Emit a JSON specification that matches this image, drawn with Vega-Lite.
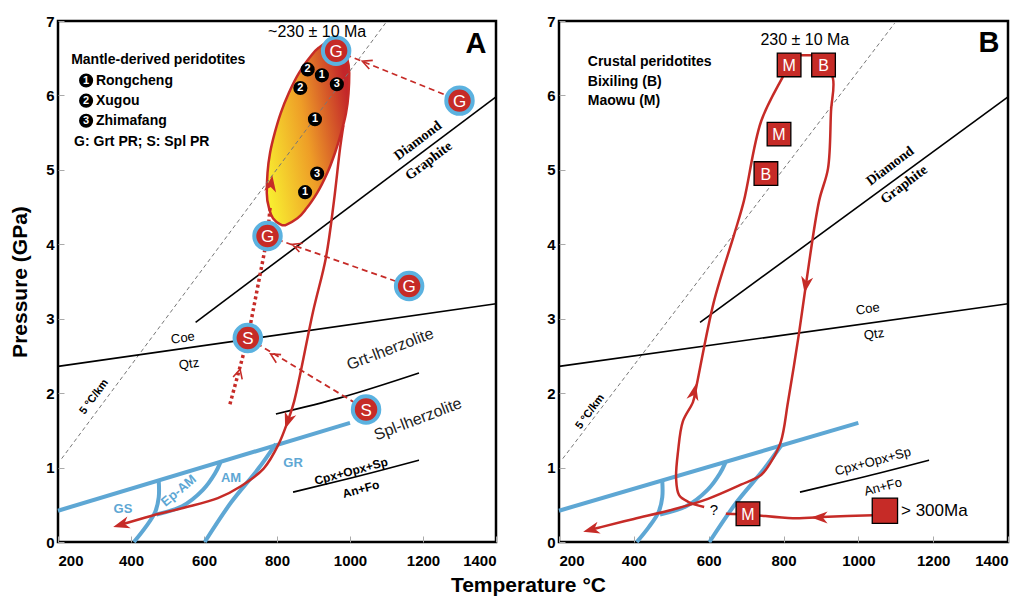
{
"$schema":"https://vega.github.io/schema/vega-lite/v6.json",
"background":"white",
"padding":{"left":8,"top":12,"right":5,"bottom":5},
"spacing":44,
"title":{"text":"Temperature °C","orient":"bottom","anchor":"middle","font":"Liberation Sans","fontSize":21,"fontWeight":"bold","color":"black","offset":6,"dx":18},
"config":{
 "view":{"stroke":"black","strokeWidth":2.5},
 "axis":{"grid":false,"domain":false,"labelFont":"Liberation Sans","labelFontWeight":"bold","labelFontSize":15,"labelColor":"black","tickColor":"#aaa","tickSize":-6,"titleFont":"Liberation Sans","titleFontWeight":"bold","titleFontSize":21,"titleColor":"black","format":"d"},
 "text":{"font":"Liberation Sans"}
},
"datasets":{
 "geo":[{"T":210,"P":1.12},{"T":1097,"P":6.97}],
 "blkA":[{"id":"c","T":200,"P":2.36},{"id":"c","T":1400,"P":3.2},{"id":"d","T":577,"P":2.95},{"id":"d","T":1400,"P":5.98},{"id":"g","T":797,"P":1.72},{"id":"g","T":975,"P":1.94},{"id":"g","T":1189,"P":2.27},{"id":"x","T":844,"P":0.67},{"id":"x","T":1003,"P":0.86},{"id":"x","T":1189,"P":1.1}],
 "blkB":[{"id":"c","T":200,"P":2.36},{"id":"c","T":1400,"P":3.2},{"id":"d","T":577,"P":2.95},{"id":"d","T":1400,"P":5.98},{"id":"x","T":844,"P":0.67},{"id":"x","T":1003,"P":0.86},{"id":"x","T":1189,"P":1.1}],
 "blue":[{"id":"m","T":200,"P":0.42},{"id":"m","T":1000,"P":1.6},
  {"id":"a","T":408,"P":0},{"id":"a","T":440,"P":0.2},{"id":"a","T":466,"P":0.4},{"id":"a","T":476,"P":0.6},{"id":"a","T":476,"P":0.82},
  {"id":"b","T":470,"P":0.37},{"id":"b","T":540,"P":0.48},{"id":"b","T":597,"P":0.7},{"id":"b","T":630,"P":0.92},{"id":"b","T":645,"P":1.07},
  {"id":"c","T":602,"P":0},{"id":"c","T":674,"P":0.53},{"id":"c","T":748,"P":0.98},{"id":"c","T":797,"P":1.32}],
 "ellA":[{"P":6.735,"T":948,"T2":955},{"P":6.72,"T":940,"T2":962},{"P":6.64,"T":914,"T2":981},{"P":6.5,"T":888,"T2":992},{"P":6.3,"T":860,"T2":998},{"P":6.03,"T":832,"T2":996},{"P":5.76,"T":810,"T2":989},{"P":5.5,"T":794,"T2":976},{"P":5.23,"T":781,"T2":959},{"P":4.96,"T":774,"T2":938},{"P":4.69,"T":772,"T2":910},{"P":4.49,"T":778,"T2":882},{"P":4.35,"T":789,"T2":856},{"P":4.27,"T":808,"T2":829},{"P":4.255,"T":815,"T2":822}],
 "redA":[{"T":982,"P":5.6},{"T":973,"P":5.3},{"T":956,"P":4.58},{"T":934,"P":3.82},{"T":899,"P":3.1},{"T":847,"P":1.89},{"T":830,"P":1.63},{"T":805,"P":1.32},{"T":764,"P":0.99},{"T":701,"P":0.75},{"T":638,"P":0.59},{"T":545,"P":0.46},{"T":455,"P":0.35},{"T":374,"P":0.235}],
 "dashA":[{"id":"1","T":1300,"P":5.93},{"id":"1","T":962,"P":6.6},{"id":"2","T":1162,"P":3.44},{"id":"2","T":774,"P":4.11},{"id":"3","T":1044,"P":1.78},{"id":"3","T":720,"P":2.74}],
 "dotA":[{"T":671,"P":1.85},{"T":720,"P":2.74},{"T":774,"P":4.11},{"T":781,"P":4.49}],
 "openA":[{"T":1044,"P":6.44,"a":292},{"T":852,"P":3.98,"a":290},{"T":792,"P":2.5,"a":301},{"T":696,"P":2.27,"a":15}],
 "barbA":[{"T":830,"P":1.63,"a":199},{"T":374,"P":0.235,"a":254},{"T":784,"P":4.81,"a":8}],
 "numA":[{"T":884,"P":6.35,"n":"2"},{"T":923,"P":6.27,"n":"1"},{"T":964,"P":6.15,"n":"3"},{"T":864,"P":6.1,"n":"2"},{"T":904,"P":5.68,"n":"1"},{"T":910,"P":4.95,"n":"3"},{"T":877,"P":4.7,"n":"1"},{"T":277,"P":6.2,"n":"1"},{"T":277,"P":5.93,"n":"2"},{"T":277,"P":5.66,"n":"3"}],
 "gsA":[{"T":962,"P":6.6,"n":"G"},{"T":1300,"P":5.93,"n":"G"},{"T":774,"P":4.11,"n":"G"},{"T":1162,"P":3.44,"n":"G"},{"T":720,"P":2.74,"n":"S"},{"T":1044,"P":1.78,"n":"S"}],
 "legA":[{"T":236,"P":6.48,"label":"Mantle-derived peridotites"},{"T":304,"P":6.2,"label":"Rongcheng"},{"T":304,"P":5.93,"label":"Xugou"},{"T":304,"P":5.66,"label":"Zhimafang"},{"T":244,"P":5.37,"label":"G: Grt PR;  S: Spl PR"}],
 "redB":[{"id":"p1","T":1039,"P":0.36},{"id":"p1","T":919,"P":0.34},{"id":"p1","T":825,"P":0.32},{"id":"p1","T":705,"P":0.37},{"id":"p1","T":646,"P":0.38},
  {"id":"p2","T":588,"P":0.47},{"id":"p2","T":545,"P":0.54},{"id":"p2","T":521,"P":0.63},{"id":"p2","T":513,"P":0.85},{"id":"p2","T":518,"P":1.21},{"id":"p2","T":531,"P":1.62},{"id":"p2","T":558,"P":1.88},{"id":"p2","T":566,"P":2.06},{"id":"p2","T":614,"P":3.23},{"id":"p2","T":668,"P":4.13},{"id":"p2","T":694,"P":4.58},{"id":"p2","T":740,"P":5.65},{"id":"p2","T":799,"P":6.26},{"id":"p2","T":815,"P":6.42},
  {"id":"t","T":815,"P":6.54},{"id":"t","T":908,"P":6.54},
  {"id":"r","T":908,"P":6.42},{"id":"r","T":932,"P":6.23},{"id":"r","T":927,"P":5.79},{"id":"r","T":919,"P":5.02},{"id":"r","T":895,"P":4.58},{"id":"r","T":860,"P":3.46},{"id":"r","T":841,"P":2.79},{"id":"r","T":812,"P":1.88},{"id":"r","T":793,"P":1.35},{"id":"r","T":767,"P":1.08},{"id":"r","T":740,"P":0.9},{"id":"r","T":686,"P":0.77},{"id":"r","T":598,"P":0.58},{"id":"r","T":507,"P":0.44},{"id":"r","T":400,"P":0.31},{"id":"r","T":312,"P":0.2},{"id":"r","T":287,"P":0.167}],
 "barbB":[{"T":897,"P":0.33,"a":270},{"T":561,"P":2.01,"a":12},{"T":860,"P":3.46,"a":189},{"T":287,"P":0.167,"a":255}],
 "sqB":[{"T":815,"P":6.41,"n":"M"},{"T":907,"P":6.41,"n":"B"},{"T":788,"P":5.48,"n":"M"},{"T":753,"P":4.95,"n":"B"},{"T":705,"P":0.38,"n":"M"}],
 "bigB":[{"T":1071,"P":0.42}],
 "legB":[{"T":277,"P":6.45,"label":"Crustal peridotites"},{"T":277,"P":6.18,"label":"Bixiling (B)"},{"T":277,"P":5.92,"label":"Maowu (M)"}]
},
"hconcat":[
{
 "width":438,"height":521,
 "encoding":{
  "x":{"field":"T","type":"quantitative","scale":{"domain":[200,1400],"nice":false,"zero":false},"axis":{"values":[200,400,600,800,1000,1200,1400],"title":null,"labelPadding":17}},
  "y":{"field":"P","type":"quantitative","scale":{"domain":[0,7],"nice":false,"zero":false},"axis":{"values":[0,1,2,3,4,5,6,7],"title":"Pressure (GPa)","labelPadding":10,"titlePadding":15}}
 },
 "layer":[
  {"data":{"name":"ellA"},"mark":{"type":"area","orient":"horizontal","interpolate":"monotone","stroke":"#c62b27","strokeWidth":2.5,"fill":{"gradient":"linear","x1":0,"y1":0.75,"x2":1,"y2":0.35,"stops":[{"offset":0,"color":"#f8ec30"},{"offset":0.5,"color":"#ee9d27"},{"offset":1,"color":"#c3262a"}]}},"encoding":{"x2":{"field":"T2"}}},
  {"data":{"name":"geo"},"mark":{"type":"line","color":"#777","strokeWidth":1,"strokeDash":[4,3]},"encoding":{}},
  {"data":{"name":"blkA"},"mark":{"type":"line","color":"black","strokeWidth":1.6,"interpolate":"monotone"},"encoding":{"detail":{"field":"id"}}},
  {"data":{"name":"blue"},"transform":[{"window":[{"op":"row_number","as":"i"}]}],"mark":{"type":"line","color":"#5ea7d4","strokeWidth":4,"interpolate":"catmull-rom"},"encoding":{"detail":{"field":"id"},"order":{"field":"i","type":"quantitative"}}},
  {"data":{"name":"redA"},"transform":[{"window":[{"op":"row_number","as":"i"}]}],"mark":{"type":"line","color":"#c62b27","strokeWidth":2.5,"interpolate":"catmull-rom"},"encoding":{"order":{"field":"i","type":"quantitative"}}},
  {"data":{"name":"dashA"},"mark":{"type":"line","color":"#c62b27","strokeWidth":1.8,"strokeDash":[6,4]},"encoding":{"detail":{"field":"id"}}},
  {"data":{"name":"dotA"},"transform":[{"window":[{"op":"row_number","as":"i"}]}],"mark":{"type":"line","color":"#c62b27","strokeWidth":3.5,"strokeDash":[3,3]},"encoding":{"order":{"field":"i","type":"quantitative"}}},
  {"data":{"name":"barbA"},"mark":{"type":"point","shape":"M0,-1L0.7,0.9L0,0.35L-0.7,0.9Z","filled":true,"color":"#c62b27","opacity":1,"size":300},"encoding":{"angle":{"field":"a","type":"quantitative","scale":null}}},
  {"data":{"name":"openA"},"mark":{"type":"point","shape":"M-0.7,0.8L0,-0.6L0.7,0.8","filled":false,"color":"#c62b27","opacity":1,"strokeWidth":1.6,"size":180},"encoding":{"angle":{"field":"a","type":"quantitative","scale":null}}},
  {"data":{"name":"numA"},"mark":{"type":"point","shape":"circle","filled":true,"color":"black","opacity":1,"size":200},"encoding":{}},
  {"data":{"name":"numA"},"mark":{"type":"text","color":"white","fontWeight":"bold","fontSize":11,"baseline":"middle","align":"center"},"encoding":{"text":{"field":"n"}}},
  {"data":{"name":"gsA"},"mark":{"type":"point","shape":"circle","filled":true,"fill":"#c62b27","stroke":"#5bb2e0","strokeWidth":4,"opacity":1,"size":700},"encoding":{}},
  {"data":{"name":"gsA"},"mark":{"type":"text","color":"white","fontSize":17,"baseline":"middle","align":"center","dy":1},"encoding":{"text":{"field":"n"}}},
  {"data":{"name":"legA"},"mark":{"type":"text","color":"black","fontWeight":"bold","fontSize":14,"align":"left","baseline":"middle"},"encoding":{"text":{"field":"label"}}},
  {"data":{"values":[{"T":910,"P":6.85,"label":"~230 ± 10 Ma"}]},"mark":{"type":"text","color":"black","fontSize":16,"align":"center","baseline":"middle"},"encoding":{"text":{"field":"label"}}},
  {"data":{"values":[{"T":1345,"P":6.69,"label":"A"}]},"mark":{"type":"text","color":"black","fontSize":29,"fontWeight":"bold","align":"center","baseline":"middle"},"encoding":{"text":{"field":"label"}}},
  {"data":{"values":[{"T":542,"P":2.74,"label":"Coe"},{"T":559,"P":2.39,"label":"Qtz"}]},"mark":{"type":"text","color":"black","fontSize":13,"angle":352,"align":"center","baseline":"middle"},"encoding":{"text":{"field":"label"}}},
  {"data":{"values":[{"T":1186,"P":5.39,"label":"Diamond"},{"T":1216,"P":5.12,"label":"Graphite"}]},"mark":{"type":"text","color":"black","font":"Liberation Serif","fontWeight":"bold","fontSize":14,"angle":323,"align":"center","baseline":"middle"},"encoding":{"text":{"field":"label"}}},
  {"data":{"values":[{"T":1110,"P":2.59,"label":"Grt-lherzolite"},{"T":1186,"P":1.65,"label":"Spl-lherzolite"}]},"mark":{"type":"text","color":"#222","fontSize":16,"angle":339,"align":"center","baseline":"middle"},"encoding":{"text":{"field":"label"}}},
  {"data":{"values":[{"T":1003,"P":0.95,"label":"Cpx+Opx+Sp"},{"T":1030,"P":0.71,"label":"An+Fo"}]},"mark":{"type":"text","color":"black","fontWeight":"bold","fontSize":12,"angle":345,"align":"center","baseline":"middle"},"encoding":{"text":{"field":"label"}}},
  {"data":{"values":[{"T":378,"P":0.44,"label":"GS"},{"T":674,"P":0.86,"label":"AM"},{"T":844,"P":1.06,"label":"GR"}]},"mark":{"type":"text","color":"#5ea7d4","fontWeight":"bold","fontSize":13,"align":"center","baseline":"middle"},"encoding":{"text":{"field":"label"}}},
  {"data":{"values":[{"T":531,"P":0.69,"label":"Ep-AM"}]},"mark":{"type":"text","color":"#5ea7d4","fontWeight":"bold","fontSize":13,"angle":320,"align":"center","baseline":"middle"},"encoding":{"text":{"field":"label"}}},
  {"data":{"values":[{"T":299,"P":1.95,"label":"5 °C/km"}]},"mark":{"type":"text","color":"black","fontWeight":"bold","fontSize":11,"angle":306.5,"align":"center","baseline":"middle"},"encoding":{"text":{"field":"label"}}}
 ]
},
{
 "width":449,"height":521,
 "encoding":{
  "x":{"field":"T","type":"quantitative","scale":{"domain":[200,1400],"nice":false,"zero":false},"axis":{"values":[200,400,600,800,1000,1200,1400],"title":null,"labelPadding":17}},
  "y":{"field":"P","type":"quantitative","scale":{"domain":[0,7],"nice":false,"zero":false},"axis":{"values":[0,1,2,3,4,5,6,7],"title":null,"labelPadding":10}}
 },
 "layer":[
  {"data":{"name":"geo"},"mark":{"type":"line","color":"#777","strokeWidth":1,"strokeDash":[4,3]},"encoding":{}},
  {"data":{"name":"blkB"},"mark":{"type":"line","color":"black","strokeWidth":1.6,"interpolate":"monotone"},"encoding":{"detail":{"field":"id"}}},
  {"data":{"name":"blue"},"transform":[{"window":[{"op":"row_number","as":"i"}]}],"mark":{"type":"line","color":"#5ea7d4","strokeWidth":4,"interpolate":"catmull-rom"},"encoding":{"detail":{"field":"id"},"order":{"field":"i","type":"quantitative"}}},
  {"data":{"name":"redB"},"transform":[{"window":[{"op":"row_number","as":"i"}]}],"mark":{"type":"line","color":"#c62b27","strokeWidth":2.5,"interpolate":"catmull-rom"},"encoding":{"detail":{"field":"id"},"order":{"field":"i","type":"quantitative"}}},
  {"data":{"name":"barbB"},"mark":{"type":"point","shape":"M0,-1L0.7,0.9L0,0.35L-0.7,0.9Z","filled":true,"color":"#c62b27","opacity":1,"size":300},"encoding":{"angle":{"field":"a","type":"quantitative","scale":null}}},
  {"data":{"name":"sqB"},"mark":{"type":"point","shape":"square","filled":true,"fill":"#c62b27","stroke":"black","strokeWidth":1.3,"opacity":1,"size":560},"encoding":{}},
  {"data":{"name":"sqB"},"mark":{"type":"text","color":"white","fontSize":16,"align":"center","baseline":"middle","dy":1},"encoding":{"text":{"field":"n"}}},
  {"data":{"name":"bigB"},"mark":{"type":"point","shape":"square","filled":true,"fill":"#c62b27","stroke":"black","strokeWidth":1.3,"opacity":1,"size":640},"encoding":{}},
  {"data":{"values":[{"T":1114,"P":0.42,"label":"> 300Ma"}]},"mark":{"type":"text","color":"black","fontSize":17,"align":"left","baseline":"middle"},"encoding":{"text":{"field":"label"}}},
  {"data":{"values":[{"T":614,"P":0.43,"label":"?"}]},"mark":{"type":"text","color":"black","fontSize":15,"align":"center","baseline":"middle"},"encoding":{"text":{"field":"label"}}},
  {"data":{"name":"legB"},"mark":{"type":"text","color":"black","fontWeight":"bold","fontSize":14,"align":"left","baseline":"middle"},"encoding":{"text":{"field":"label"}}},
  {"data":{"values":[{"T":857,"P":6.74,"label":"230 ± 10 Ma"}]},"mark":{"type":"text","color":"black","fontSize":16,"align":"center","baseline":"middle"},"encoding":{"text":{"field":"label"}}},
  {"data":{"values":[{"T":1349,"P":6.7,"label":"B"}]},"mark":{"type":"text","color":"black","fontSize":29,"fontWeight":"bold","align":"center","baseline":"middle"},"encoding":{"text":{"field":"label"}}},
  {"data":{"values":[{"T":1025,"P":3.13,"label":"Coe"},{"T":1042,"P":2.79,"label":"Qtz"}]},"mark":{"type":"text","color":"black","fontSize":13,"angle":352,"align":"center","baseline":"middle"},"encoding":{"text":{"field":"label"}}},
  {"data":{"values":[{"T":1085,"P":5.05,"label":"Diamond"},{"T":1122,"P":4.8,"label":"Graphite"}]},"mark":{"type":"text","color":"black","font":"Liberation Serif","fontWeight":"bold","fontSize":14,"angle":323,"align":"center","baseline":"middle"},"encoding":{"text":{"field":"label"}}},
  {"data":{"values":[{"T":1039,"P":1.08,"label":"Cpx+Opx+Sp"},{"T":1066,"P":0.74,"label":"An+Fo"}]},"mark":{"type":"text","color":"black","fontSize":13,"angle":345,"align":"center","baseline":"middle"},"encoding":{"text":{"field":"label"}}},
  {"data":{"values":[{"T":283,"P":1.75,"label":"5 °C/km"}]},"mark":{"type":"text","color":"black","fontWeight":"bold","fontSize":11,"angle":306.5,"align":"center","baseline":"middle"},"encoding":{"text":{"field":"label"}}}
 ]
}
]
}
